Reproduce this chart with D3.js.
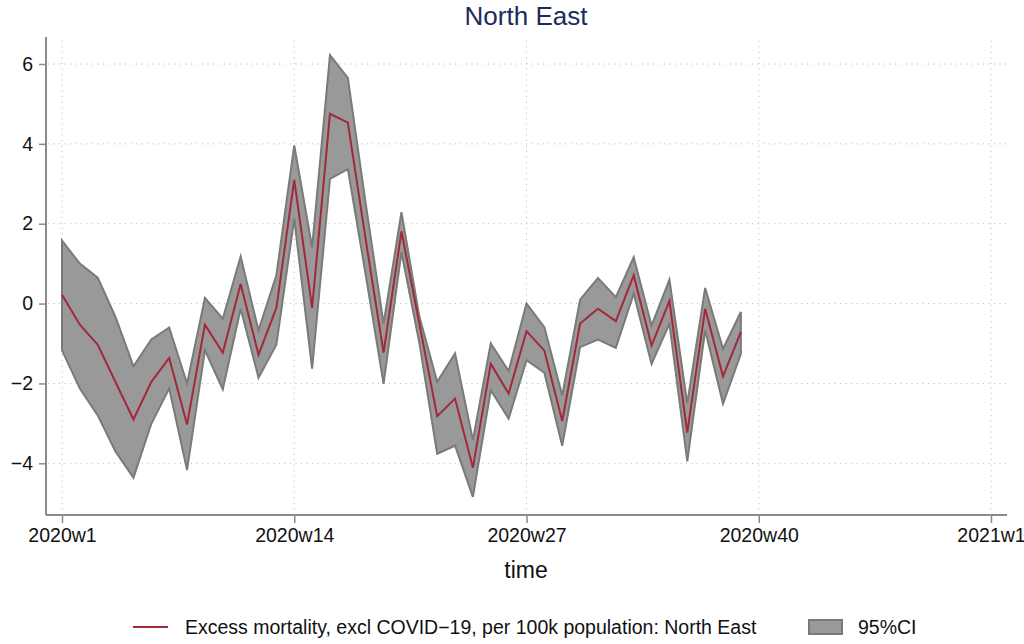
<!DOCTYPE html>
<html>
<head>
<meta charset="utf-8">
<script src="https://cdn.jsdelivr.net/npm/d3@7"></script>
<style>
  body { margin: 0; background: #fff; }
  text { font-family: "Liberation Sans", Arial, sans-serif; }
</style>
</head>
<body>
<div id="container"></div>
<script>
// weeks since 2020w1 (0 = 2020w1)
var weeks = d3.range(0, 39);
var excess = [0.22, -0.53, -1.03, -1.97, -2.9, -1.96, -1.36, -3.03, -0.53, -1.23, 0.49, -1.28, -0.11,
  3.1, -0.11, 4.75, 4.53, 1.6, -1.23, 1.81, -0.5, -2.82, -2.38, -4.11, -1.51, -2.25,
  -0.69, -1.18, -2.94, -0.5, -0.13, -0.44, 0.71, -1.05, 0.07, -3.23, -0.13, -1.82, -0.71];
var ciHigh = [1.58, 1.0, 0.65, -0.34, -1.57, -0.9, -0.6, -2.0, 0.14, -0.38, 1.18, -0.67, 0.71,
  3.96, 1.41, 6.22, 5.65, 2.5, -0.5, 2.29, -0.32, -1.96, -1.25, -3.42, -1.0, -1.69,
  0.0, -0.59, -2.3, 0.1, 0.64, 0.16, 1.16, -0.55, 0.6, -2.5, 0.39, -1.13, -0.21];
var ciLow = [-1.17, -2.13, -2.8, -3.71, -4.36, -3.01, -2.13, -4.17, -1.17, -2.15, -0.13, -1.86, -1.03,
  2.12, -1.63, 3.12, 3.37, 0.72, -2.01, 1.29, -0.98, -3.76, -3.56, -4.84, -2.17, -2.88,
  -1.42, -1.73, -3.56, -1.09, -0.9, -1.11, 0.25, -1.51, -0.51, -3.95, -0.67, -2.51, -1.26];
var xTicks = [0, 13, 26, 39, 52];
var xTickLabels = ["2020w1", "2020w14", "2020w27", "2020w40", "2021w1"];
var yTicks = [-4, -2, 0, 2, 4, 6];

var width = 1024, height = 644;
var svg = d3.select("#container").append("svg")
    .attr("width", width)
    .attr("height", height);

var plotLeft = 46, plotRight = 1007, plotTop = 37, plotBottom = 515;

var x = d3.scaleLinear().domain([0, 52]).range([62, 991]);
var y = d3.scaleLinear().domain([-4, 6]).range([463.3, 64]);

// grid
var grid = svg.append("g");
grid.selectAll("line.h")
  .data(yTicks)
  .enter().append("line")
    .attr("x1", plotLeft + 2).attr("x2", plotRight)
    .attr("y1", function(d) { return y(d); })
    .attr("y2", function(d) { return y(d); })
    .attr("stroke", "#b4b4b4")
    .attr("stroke-width", 1)
    .attr("stroke-dasharray", "1,4.5");
grid.selectAll("line.v")
  .data(xTicks)
  .enter().append("line")
    .attr("x1", function(d) { return x(d); })
    .attr("x2", function(d) { return x(d); })
    .attr("y1", plotTop + 4).attr("y2", plotBottom - 2)
    .attr("stroke", "#b4b4b4")
    .attr("stroke-width", 1)
    .attr("stroke-dasharray", "1,4.5");

var rows = weeks.map(function(w, i) {
  return { w: w, est: excess[i], lo: ciLow[i], hi: ciHigh[i] };
});

// confidence band
var area = d3.area()
    .x(function(d) { return x(d.w); })
    .y0(function(d) { return y(d.lo); })
    .y1(function(d) { return y(d.hi); });

svg.append("path")
    .datum(rows)
    .attr("d", area)
    .attr("fill", "#999999")
    .attr("stroke", "#7a7a7a")
    .attr("stroke-width", 2)
    .attr("stroke-linejoin", "miter");

var line = d3.line()
    .x(function(d) { return x(d.w); })
    .y(function(d) { return y(d.est); });

svg.append("path")
    .datum(rows)
    .attr("d", line)
    .attr("fill", "none")
    .attr("stroke", "#a3283a")
    .attr("stroke-width", 2);

// axes
var axisColor = "#8a8a8a";
var yAxis = svg.append("g")
    .attr("transform", "translate(" + plotLeft + ",0)")
    .call(d3.axisLeft(y).tickValues(yTicks).tickSize(7).tickPadding(6)
      .tickFormat(function(d) { return d < 0 ? "\u2212" + Math.abs(d) : d; }));
yAxis.select(".domain").attr("d", "M0," + plotTop + "V" + plotBottom);

var xAxis = svg.append("g")
    .attr("transform", "translate(0," + plotBottom + ")")
    .call(d3.axisBottom(x).tickValues(xTicks).tickSize(8).tickPadding(5)
      .tickFormat(function(d, i) { return xTickLabels[i]; }));
xAxis.select(".domain").attr("d", "M" + plotLeft + ",0H" + plotRight);

svg.selectAll(".domain").attr("stroke", axisColor).attr("stroke-width", 2);
svg.selectAll(".tick line").attr("stroke", axisColor).attr("stroke-width", 1.5);
svg.selectAll(".tick text")
    .attr("fill", "#111")
    .style("font-size", "19.5px")
    .style("font-family", "'Liberation Sans', Arial, sans-serif");

// titles
svg.append("text")
    .attr("x", 526).attr("y", 25)
    .attr("text-anchor", "middle")
    .attr("fill", "#1c2b5a")
    .style("font-size", "26px")
    .text("North East");

svg.append("text")
    .attr("x", 526).attr("y", 578)
    .attr("text-anchor", "middle")
    .attr("fill", "#111")
    .style("font-size", "23px")
    .text("time");

// legend
var legend = svg.append("g");
legend.append("line")
    .attr("x1", 133).attr("x2", 168)
    .attr("y1", 627).attr("y2", 627)
    .attr("stroke", "#a3283a").attr("stroke-width", 2);
legend.append("text")
    .attr("x", 185).attr("y", 634)
    .attr("fill", "#111")
    .style("font-size", "19.5px")
    .text("Excess mortality, excl COVID\u221219, per 100k population: North East");
legend.append("rect")
    .attr("x", 809).attr("y", 620)
    .attr("width", 33).attr("height", 14)
    .attr("fill", "#999999")
    .attr("stroke", "#7a7a7a").attr("stroke-width", 2);
legend.append("text")
    .attr("x", 858).attr("y", 634)
    .attr("fill", "#111")
    .style("font-size", "19.5px")
    .text("95%CI");
</script>
</body>
</html>
